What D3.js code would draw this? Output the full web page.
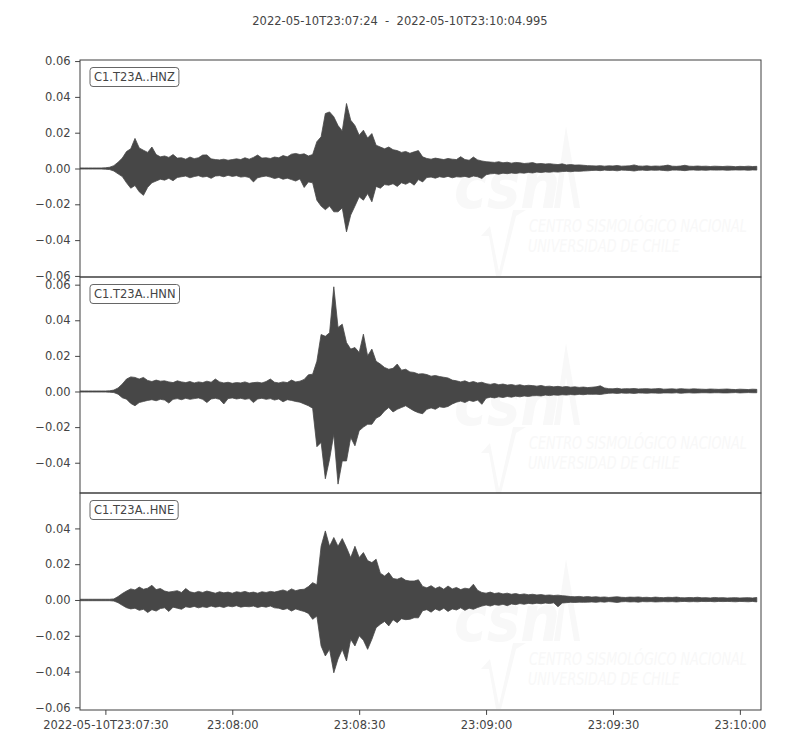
<!DOCTYPE html>
<html>
<head>
<meta charset="utf-8">
<script src="https://cdn.jsdelivr.net/npm/d3@7"></script>
<style>
  body { margin: 0; background: #fff; }
  svg { font-family: "DejaVu Sans", sans-serif; }
</style>
</head>
<body>
<div id="chart"></div>
<script>
var svgWidth = 800;
var svgHeight = 750;

var margin = { left: 80, right: 39 };
var width = svgWidth - margin.left - margin.right;
var panelTops = [60, 277, 493];
var panelHeights = [217, 216, 217];

var title = "2022-05-10T23:07:24  -  2022-05-10T23:10:04.995";
var day = "2022-05-10";
var startClock = "23:07:24";
var endClock = "23:10:04.995";
var channels = ["C1.T23A..HNZ", "C1.T23A..HNN", "C1.T23A..HNE"];
var xTickTimes = ["23:07:30", "23:08:00", "23:08:30", "23:09:00", "23:09:30", "23:10:00"];

var yDomains = [[-0.0606, 0.0606], [-0.0570, 0.0643], [-0.0615, 0.0598]];
var yTicks = [
  [-0.06, -0.04, -0.02, 0, 0.02, 0.04, 0.06],
  [-0.04, -0.02, 0, 0.02, 0.04, 0.06],
  [-0.06, -0.04, -0.02, 0, 0.02, 0.04]
];

// peak amplitudes, one pair per second from 23:07:24,
// in units of 0.001 (upper peak, lower peak)
var unit = 0.001;

var hnzUp = [
  0.3, 0.3, 0.3, 0.3, 0.3, 0.3, 0.4, 0.7, 1.6, 3.5,
  5.8, 9.5, 11.0, 16.8, 11.5, 10.2, 9.0, 12.0, 7.8, 6.5,
  7.0, 6.2, 7.8, 5.8, 6.0, 5.2, 6.4, 5.5, 6.0, 7.5,
  7.6, 5.4, 5.0, 4.8, 5.2, 4.6, 5.0, 5.4, 5.0, 6.0,
  5.2, 6.2, 7.5, 5.8, 6.0, 5.6, 6.4, 6.0, 7.2, 6.5,
  8.0, 8.4, 7.8, 8.2, 7.0, 7.8, 15.0, 17.7, 30.7, 31.6,
  28.9, 24.0, 21.0, 36.3, 27.0, 24.0, 18.6, 21.4, 17.0, 19.5,
  13.0, 12.0, 11.0, 12.0, 10.5, 10.0, 9.0, 9.5, 8.5, 9.3,
  10.0, 6.5, 5.6, 5.2, 5.8, 5.4, 5.0, 5.6, 5.2, 5.0,
  6.6, 5.0, 4.6, 6.4, 4.8, 4.2, 3.8, 3.6, 3.4, 3.8,
  3.2, 3.5, 3.0, 3.4, 3.2, 2.8, 3.0, 3.3, 2.6, 2.8,
  2.5, 2.7, 2.4, 2.2, 2.6, 2.0, 2.2, 1.9, 2.0, 1.8,
  1.6, 1.5, 1.4, 1.6, 1.3, 1.5, 1.4, 1.7, 1.3, 1.4,
  1.5, 2.0, 1.4, 1.3, 1.5, 1.2, 1.4, 1.3, 1.5, 1.9,
  1.3, 1.2, 1.4, 1.8, 1.3, 1.2, 1.4, 1.2, 1.3, 1.1,
  1.3, 1.2, 1.1, 1.3, 1.2, 1.0, 1.2, 1.1, 1.3, 1.1, 1.2
];
var hnzLo = [
  -0.3, -0.3, -0.3, -0.3, -0.3, -0.3, -0.4, -0.6, -1.4, -3.0,
  -4.5, -8.0, -11.0, -9.5, -13.0, -15.0, -10.5, -8.0, -7.0, -6.0,
  -6.5, -5.5, -6.8, -5.0, -4.6, -4.2, -5.2, -4.5, -4.0, -4.8,
  -4.4, -5.5, -4.2, -4.0, -4.6, -3.8, -4.4, -4.0, -4.8, -4.5,
  -5.0, -7.5, -5.2, -4.6, -4.2, -4.8, -5.6, -5.0, -6.0, -5.4,
  -6.2, -7.0, -5.8, -10.6, -7.5, -8.0, -17.7, -21.0, -23.0, -21.0,
  -24.2, -24.2, -22.0, -35.4, -26.0, -21.0, -15.8, -17.7, -14.0, -18.6,
  -10.0, -11.0, -9.0, -9.3, -8.5, -10.0, -8.0, -8.8, -7.6, -9.3,
  -6.2, -7.5, -5.0, -4.8, -5.4, -4.6, -5.0, -4.4, -5.2, -4.6,
  -4.8, -4.4, -5.0, -4.2, -4.6, -5.6, -3.5, -3.0, -2.8, -3.2,
  -2.6, -2.9, -2.5, -2.8, -2.4, -2.6, -2.2, -2.5, -2.0, -2.3,
  -1.9, -2.1, -1.8, -2.0, -1.7, -1.6, -1.8, -1.5, -1.6, -1.4,
  -1.3, -1.1, -1.0, -1.2, -0.9, -1.1, -1.0, -1.3, -0.9, -1.0,
  -1.1, -1.4, -1.0, -0.9, -1.1, -0.9, -1.0, -0.9, -1.1, -1.3,
  -0.9, -0.9, -1.0, -1.2, -0.9, -0.8, -1.0, -0.9, -1.0, -0.8,
  -0.9, -0.9, -0.8, -1.0, -0.9, -0.8, -0.9, -0.8, -1.0, -0.8, -0.9
];

var hnnUp = [
  0.3, 0.3, 0.3, 0.3, 0.3, 0.3, 0.3, 0.4, 0.8, 2.0,
  4.2, 7.0, 8.2, 7.9, 7.0, 7.9, 6.2, 5.6, 6.4, 5.8,
  6.0, 5.4, 5.0, 6.0, 5.4, 5.0, 5.6, 4.8, 5.4, 5.0,
  5.8, 5.2, 7.0, 5.4, 4.8, 5.2, 4.6, 5.0, 4.8, 5.4,
  4.6, 5.0, 5.2, 4.8, 5.6, 7.0, 5.2, 4.8, 5.4, 5.0,
  6.4, 5.4, 5.8, 6.8, 9.4, 9.7, 17.0, 32.0, 31.0, 33.0,
  58.8, 36.0, 37.8, 27.5, 23.8, 24.7, 21.9, 32.2, 20.0, 23.8,
  17.0, 15.4, 13.5, 12.5, 13.0, 15.4, 12.0, 12.5, 11.0, 10.7,
  9.8, 10.0, 9.5, 8.6, 9.0, 8.4, 8.0, 7.6, 6.4, 6.0,
  5.4, 6.0, 5.0, 5.6, 4.8, 5.2, 4.4, 4.0, 4.5, 3.8,
  4.2, 3.6, 3.9, 3.4, 3.8, 3.2, 3.5, 3.3, 3.0, 3.4,
  2.8, 3.0, 2.6, 2.9, 2.5, 2.8, 2.4, 2.6, 2.3, 2.5,
  2.2, 2.4, 2.6, 3.2, 2.0, 1.6, 1.5, 1.8, 1.4, 1.6,
  1.5, 1.7, 1.4, 1.5, 1.6, 1.4, 1.5, 1.7, 1.3, 1.4,
  1.5, 1.3, 1.6, 1.4, 1.3, 1.5, 1.4, 1.3, 1.2, 1.4,
  1.3, 1.2, 1.3, 1.4, 1.2, 1.1, 1.3, 1.2, 1.1, 1.3, 1.2
];
var hnnLo = [
  -0.3, -0.3, -0.3, -0.3, -0.3, -0.3, -0.3, -0.4, -0.6, -1.5,
  -3.5, -4.3, -6.7, -8.0, -6.2, -5.6, -5.0, -4.6, -5.2, -4.4,
  -4.8, -6.5, -4.4, -4.0, -4.6, -3.8, -4.4, -4.0, -3.6, -4.4,
  -6.2, -4.2, -3.8, -4.4, -7.0, -4.0, -3.6, -4.2, -3.8, -4.4,
  -4.0, -6.2, -4.2, -3.8, -4.4, -4.0, -4.8, -4.2, -5.8, -4.6,
  -5.0, -5.6, -6.0, -7.0, -8.0, -9.4, -31.0, -28.6, -49.0, -38.0,
  -24.0, -52.0, -39.0, -39.0, -25.8, -30.5, -22.0, -20.0, -18.4, -18.4,
  -15.0, -13.7, -10.9, -9.0, -11.5, -10.0, -9.0, -8.0, -9.5, -10.9,
  -11.9, -12.5, -10.0, -9.2, -10.0, -8.6, -9.0, -8.4, -7.0, -6.0,
  -5.4, -6.2, -5.0, -5.6, -4.8, -7.2, -3.8, -3.2, -3.6, -3.0,
  -3.4, -2.8, -3.2, -2.6, -3.0, -2.5, -2.8, -2.4, -2.3, -2.5,
  -2.0, -2.3, -1.9, -2.1, -1.8, -2.0, -1.7, -1.9, -1.6, -1.8,
  -1.5, -1.6, -1.5, -1.7, -1.3, -1.0, -0.9, -1.1, -0.8, -1.0,
  -0.9, -1.1, -0.8, -0.9, -1.0, -0.8, -0.9, -1.0, -0.8, -0.8,
  -0.9, -0.7, -1.0, -0.8, -0.7, -0.9, -0.8, -0.7, -0.7, -0.8,
  -0.7, -0.7, -0.8, -0.8, -0.7, -0.6, -0.8, -0.7, -0.6, -0.7, -0.7
];

var hneUp = [
  0.4, 0.4, 0.4, 0.4, 0.4, 0.4, 0.4, 0.4, 0.6, 1.9,
  3.6, 5.0, 6.2, 5.6, 7.2, 6.0, 6.6, 8.2, 5.8, 6.4,
  5.0, 4.4, 4.8, 5.2, 4.2, 6.4, 4.6, 4.0, 4.8, 4.2,
  5.0, 4.4, 3.8, 4.6, 4.0, 4.4, 3.8, 4.6, 4.2, 4.8,
  4.0, 4.4, 3.8, 4.6, 4.2, 4.8, 4.4, 5.0, 5.6, 4.8,
  6.2, 5.2, 5.8, 6.0, 7.5, 9.7, 8.5, 30.0, 38.6, 30.0,
  34.9, 30.0, 34.3, 29.3, 23.7, 30.0, 23.7, 26.5, 22.0, 20.9,
  22.8, 15.0, 13.4, 15.3, 12.0, 11.6, 12.5, 11.0, 10.6, 10.6,
  11.3, 7.6, 6.8, 8.0, 6.4, 7.4, 6.0, 7.8, 6.2, 7.0,
  5.8, 6.6, 6.2, 8.8, 5.4, 4.2, 3.8, 4.4, 3.6, 4.0,
  3.4, 3.8, 3.2, 3.6, 3.0, 3.4, 2.9, 3.2, 2.8, 3.0,
  2.6, 2.8, 2.5, 2.7, 2.4, 2.2, 1.9, 1.8, 2.0, 1.7,
  1.9, 1.6, 1.8, 1.5, 1.7, 1.4, 1.6, 1.8, 1.5, 1.4,
  1.6, 1.5, 1.7, 1.4, 1.5, 1.3, 1.6, 1.4, 1.3, 1.5,
  1.4, 1.6, 1.3, 1.2, 1.4, 1.3, 1.5, 1.2, 1.3, 1.1,
  1.4, 1.2, 1.3, 1.1, 1.2, 1.3, 1.1, 1.2, 1.3, 1.1, 1.4
];
var hneLo = [
  -0.4, -0.4, -0.4, -0.4, -0.4, -0.4, -0.4, -0.4, -0.6, -1.5,
  -3.0, -4.3, -5.0, -4.6, -5.8, -5.2, -7.0, -5.4, -6.2, -4.8,
  -4.4, -6.4, -4.0, -4.6, -5.2, -3.8, -4.2, -3.6, -4.4, -3.8,
  -4.2, -3.4, -4.0, -3.6, -4.2, -3.4, -3.8, -3.2, -4.0, -3.6,
  -3.8, -3.4, -4.2, -3.6, -4.0, -3.4, -4.4, -4.6, -5.4, -4.8,
  -6.2, -5.0, -5.8, -6.4, -7.5, -10.8, -9.0, -25.7, -31.3, -27.6,
  -40.7, -33.0, -27.6, -34.1, -22.0, -25.7, -20.0, -22.5, -27.6, -22.0,
  -15.5, -13.6, -12.0, -14.5, -11.0, -12.7, -10.5, -11.0, -10.8, -9.9,
  -10.0, -6.0, -5.4, -6.8, -5.0, -6.0, -4.6, -6.4, -5.0, -5.6,
  -4.4, -5.8, -4.6, -5.2, -4.2, -3.4, -2.8, -3.4, -2.6, -3.0,
  -2.4, -3.2, -2.2, -2.6, -2.0, -2.4, -1.9, -2.2, -1.8, -2.1,
  -1.7, -2.0, -1.6, -3.8, -1.7, -1.5, -1.3, -1.4, -1.2, -1.3,
  -1.2, -1.1, -1.3, -1.0, -1.2, -0.9, -1.1, -1.4, -1.0, -0.9,
  -1.1, -1.0, -1.2, -0.9, -1.0, -0.9, -1.1, -1.0, -0.9, -1.0,
  -0.9, -1.1, -0.9, -0.8, -1.0, -0.9, -1.0, -0.8, -0.9, -0.8,
  -1.0, -0.8, -0.9, -0.8, -0.9, -1.0, -0.8, -0.9, -1.0, -0.8, -1.1
];

var traceUps = [hnzUp, hnnUp, hneUp];
var traceLos = [hnzLo, hnnLo, hneLo];

var textColor = "#444444";
var traceColor = "#474747";
var fontSize = "11.5px";

var parseTime = d3.utcParse("%Y-%m-%d %H:%M:%S");
var parseTimeMs = d3.utcParse("%Y-%m-%d %H:%M:%S.%L");
var startDate = parseTime(day + " " + startClock);
var endDate = parseTimeMs(day + " " + endClock);

var svg = d3.select("#chart")
  .append("svg")
  .attr("width", svgWidth)
  .attr("height", svgHeight);

svg.append("text")
  .attr("x", svgWidth / 2)
  .attr("y", 25)
  .attr("text-anchor", "middle")
  .attr("fill", textColor)
  .style("font-size", fontSize)
  .style("white-space", "pre")
  .text(title);

var xScale = d3.scaleUtc()
  .domain([startDate, endDate])
  .range([0, width]);

// one record per second: time, upper and lower peak
function traceData(ups, los) {
  return ups.map(function(u, i) {
    return {
      time: new Date(startDate.getTime() + i * 1000),
      up: u * unit,
      lo: los[i] * unit
    };
  });
}

// squeeze a text sideways so it spans the given width
function squeezeText(sel, x, y, targetWidth) {
  var w = sel.node().getComputedTextLength();
  sel.attr("transform", "translate(" + x + "," + y + ") scale(" + (targetWidth / w) + ",1)");
}

function drawLogo(g) {
  // faint CSN watermark behind the trace
  var wm = g.append("g").attr("fill", "#f8f8f8").attr("stroke", "none");
  var csn = wm.append("text")
    .style("font-size", "64px").style("font-weight", "bold").style("font-style", "italic")
    .text("csn");
  squeezeText(csn, 374, 148, 106);
  wm.append("path")
    .attr("d", "M474,148 L486,66 L500,148 L494,148 L486,100 L480,148 Z");
  wm.append("path")
    .attr("d", "M401,176 L410,166 L419,212 L433,150 L446,150 L436,156 L421,216 L416,216 L409,176 Z");
  var line1 = wm.append("text")
    .style("font-size", "17px").style("font-style", "italic")
    .text("CENTRO SISMOLÓGICO NACIONAL");
  squeezeText(line1, 449, 172, 218);
  var line2 = wm.append("text")
    .style("font-size", "17px").style("font-style", "italic")
    .text("UNIVERSIDAD DE CHILE");
  squeezeText(line2, 448, 192, 152);
}

channels.forEach(function(name, k) {
  var h = panelHeights[k];
  var g = svg.append("g")
    .attr("transform", "translate(" + margin.left + "," + panelTops[k] + ")");

  var yScale = d3.scaleLinear()
    .domain(yDomains[k])
    .range([h, 0]);

  g.append("clipPath").attr("id", "clip" + k)
    .append("rect").attr("width", width).attr("height", h);

  drawLogo(g);

  var area = d3.area()
    .x(function(d) { return xScale(d.time); })
    .y0(function(d) { return yScale(d.lo); })
    .y1(function(d) { return yScale(d.up); });

  g.append("path")
    .datum(traceData(traceUps[k], traceLos[k]))
    .attr("clip-path", "url(#clip" + k + ")")
    .attr("fill", traceColor)
    .attr("stroke", traceColor)
    .attr("stroke-width", 0.8)
    .attr("stroke-linejoin", "miter")
    .attr("d", area);

  var leftAxis = d3.axisLeft(yScale)
    .tickValues(yTicks[k])
    .tickSize(4.9)
    .tickPadding(4.5)
    .tickFormat(d3.format(".2f"));

  var ya = g.append("g").call(leftAxis);
  ya.select(".domain").remove();
  ya.selectAll("line").attr("stroke", textColor);
  ya.selectAll("text").attr("fill", textColor).style("font-size", fontSize)
    .style("font-family", "DejaVu Sans");

  if (k === channels.length - 1) {
    var tickDates = xTickTimes.map(function(s) { return parseTime(day + " " + s); });
    var bottomAxis = d3.axisBottom(xScale)
      .tickValues(tickDates)
      .tickSize(4.9)
      .tickPadding(6)
      .tickFormat(function(d, i) {
        return i === 0 ? day + "T" + xTickTimes[i] : xTickTimes[i];
      });
    var xa = g.append("g")
      .attr("transform", "translate(0," + h + ")")
      .call(bottomAxis);
    xa.select(".domain").remove();
    xa.selectAll("line").attr("stroke", textColor);
    xa.selectAll("text").attr("fill", textColor).style("font-size", fontSize)
      .style("font-family", "DejaVu Sans");
  }

  // frame
  g.append("rect")
    .attr("x", 0).attr("y", 0)
    .attr("width", width).attr("height", h)
    .attr("fill", "none")
    .attr("stroke", "#3f3f3f")
    .attr("stroke-width", 1);

  // channel label in a rounded box
  var box = g.append("rect");
  var label = g.append("text")
    .attr("x", 14)
    .attr("y", 21)
    .attr("fill", textColor)
    .style("font-size", fontSize)
    .text(name);
  var bb = label.node().getBBox();
  box.attr("x", bb.x - 4)
    .attr("y", 7.5)
    .attr("width", bb.width + 8)
    .attr("height", 19)
    .attr("rx", 3)
    .attr("fill", "#fff")
    .attr("stroke", "#666")
    .attr("stroke-width", 1);
});
</script>
</body>
</html>
